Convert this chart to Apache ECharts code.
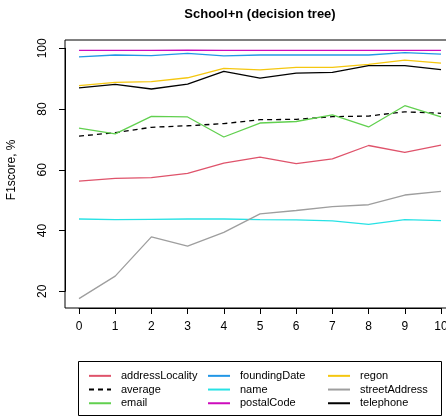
<!DOCTYPE html>
<html><head><meta charset="utf-8">
<script src="https://cdn.jsdelivr.net/npm/echarts@6/dist/echarts.min.js"></script>
<style>html,body{margin:0;padding:0;background:#fff}#c{width:446px;height:417px}</style>
</head><body><div id="c"></div>
<script>
const xValues = [0,1,2,3,4,5,6,7,8,9,10];
const addressLocality = [56.3,57.2,57.4,58.8,62.2,64.2,62.0,63.6,68.0,65.7,68.1];
const average = [71.1,72.2,74.0,74.5,75.2,76.5,76.6,77.5,77.7,79.1,78.6];
const email = [73.7,71.8,77.6,77.4,70.8,75.4,75.9,78.1,74.1,81.1,77.4];
const foundingDate = [97.2,97.8,97.6,98.3,97.5,97.8,97.8,97.8,97.8,98.6,98.1];
const nameS = [43.8,43.6,43.7,43.8,43.8,43.6,43.5,43.2,42.0,43.6,43.3];
const postalCode = [99.3,99.3,99.3,99.4,99.3,99.3,99.3,99.3,99.3,99.3,99.3];
const regon = [87.7,88.8,89.0,90.3,93.4,92.9,93.7,93.7,94.7,96.1,95.1];
const streetAddress = [17.6,25.0,37.9,34.9,39.4,45.5,46.6,47.9,48.5,51.7,52.9];
const telephone = [87.0,88.1,86.6,88.2,92.4,90.2,91.8,92.1,94.3,94.3,93.0];
const yTicks = [20,40,60,80,100];

const seriesDefs = [
  ['addressLocality', addressLocality, '#DF536B', 'solid'],
  ['average', average, '#000000', 'dashed'],
  ['email', email, '#61D04F', 'solid'],
  ['foundingDate', foundingDate, '#2297E6', 'solid'],
  ['name', nameS, '#28E2E5', 'solid'],
  ['postalCode', postalCode, '#CD0BBC', 'solid'],
  ['regon', regon, '#F5C710', 'solid'],
  ['streetAddress', streetAddress, '#9E9E9E', 'solid'],
  ['telephone', telephone, '#000000', 'solid']
];
const font = 'Liberation Sans, Arial, sans-serif';
const series = seriesDefs.map(([n, d, c, t]) => ({
  name: n, type: 'line', symbol: 'none', silent: true, animation: false, clip: false,
  data: xValues.map((x, i) => [x, d[i]]),
  lineStyle: { color: c, width: 1.3, type: t === 'dashed' ? [5, 4] : 'solid' },
  itemStyle: { color: c }
}));
const legendCol = (names, left) => ({
  data: names, orient: 'vertical', left: left, top: 364, itemGap: 0,
  itemWidth: 22, itemHeight: 10,
  itemStyle: { opacity: 0 },
  textStyle: { fontFamily: font, fontSize: 11, color: '#000', lineHeight: 13.7, padding: [0,0,0,5] },
  selectedMode: false
});
const chart = echarts.init(document.getElementById('c'), null, { renderer: 'canvas' });
chart.setOption({
  animation: false,
  grid: { left: 79, right: 5, top: 48.3, bottom: 417 - 291.3, outerBoundsMode: 'none', containLabel: false },
  xAxis: { type: 'value', min: 0, max: 10, interval: 1, offset: 16.7,
    axisLine: { show: true, onZero: false, lineStyle: { color: '#000', width: 1 } },
    axisTick: { show: true, length: 6, lineStyle: { color: '#000' } },
    splitLine: { show: false },
    axisLabel: { fontFamily: font, fontSize: 12, color: '#000', margin: 13, hideOverlap: false } },
  yAxis: { type: 'value', min: 20, max: 100, interval: 20, offset: 14,
    axisLine: { show: true, onZero: false, lineStyle: { color: '#000', width: 1 } },
    axisTick: { show: true, length: 6, lineStyle: { color: '#000' } },
    splitLine: { show: false },
    axisLabel: { fontFamily: font, fontSize: 12, color: '#000', rotate: 90, margin: 16,
      formatter: v => yTicks.includes(v) ? String(v) : '' },
    name: 'F1score, %', nameLocation: 'middle', nameGap: 47,
    nameTextStyle: { fontFamily: font, fontSize: 12, color: '#000' } },
  legend: [
    legendCol(['addressLocality','average','email'], 83),
    legendCol(['foundingDate','name','postalCode'], 202),
    legendCol(['regon','streetAddress','telephone'], 322)
  ],
  graphic: [
    { type: 'text', x: 260, y: 14, silent: true,
      style: { text: 'School+n (decision tree)', textAlign: 'center', textVerticalAlign: 'middle',
        fontFamily: font, fontSize: 13, fontWeight: 'bold', fill: '#000' } },
    { type: 'rect', shape: { x: 65, y: 40, width: 391, height: 268 }, silent: true,
      style: { fill: 'none', stroke: '#000', lineWidth: 1 } },
    { type: 'rect', shape: { x: 78.5, y: 361.5, width: 363, height: 54 }, silent: true,
      style: { fill: 'none', stroke: '#000', lineWidth: 1 } }
  ],
  series: series
});
</script></body></html>
